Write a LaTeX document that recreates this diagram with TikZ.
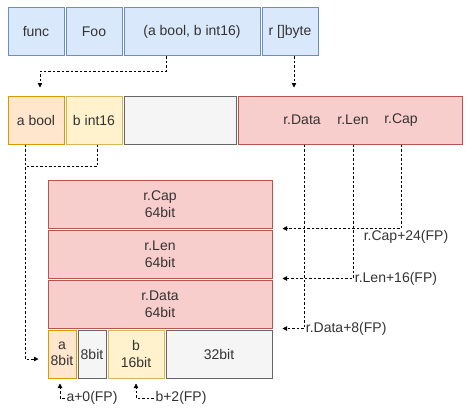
\documentclass[tikz,border=0pt]{standalone}
\usepackage{fontspec}
\setmainfont{Liberation Sans}
\usetikzlibrary{arrows.meta,positioning}
\definecolor{argfill}{HTML}{DAE8FC}
\definecolor{argline}{HTML}{6C8EBF}
\definecolor{boolfill}{HTML}{FFE6CC}
\definecolor{boolline}{HTML}{D79B00}
\definecolor{intfill}{HTML}{FFF2CC}
\definecolor{intline}{HTML}{D6B656}
\definecolor{padfill}{HTML}{F5F5F5}
\definecolor{padline}{HTML}{666666}
\definecolor{slicefill}{HTML}{F8CECC}
\definecolor{sliceline}{HTML}{B85450}
\tikzset{
	cell/.style={
		rectangle,
		line width=1pt,
		inner sep=0pt,
		minimum height=48pt,
		align=center,
		text=black!80,
		font=\fontsize{14}{16.5}\selectfont,
		node distance=1pt
	},
	argcell/.style={cell, fill=argfill, draw=argline},
	boolcell/.style={cell, fill=boolfill, draw=boolline},
	intcell/.style={cell, fill=intfill, draw=intline},
	padcell/.style={cell, fill=padfill, draw=padline},
	slicecell/.style={cell, fill=slicefill, draw=sliceline},
	lbl/.style={
		inner sep=1.5pt,
		text=black!80,
		font=\fontsize{14}{16.5}\selectfont
	},
	link/.style={
		dash pattern=on 2.5pt off 2pt,
		line width=0.8pt
	},
	ptr/.style={
		link,
		-{Triangle[length=4.5pt,width=4.5pt]}
	}
}

\begin{document}
\begin{tikzpicture}[x=1pt,y=-1pt]
\useasboundingbox (0,0) rectangle (473,416);
% signature
\node [argcell, minimum width=56pt] (func) at (36,31.5) {func};
\node [argcell, minimum width=56pt, right=of func] (foo) {Foo};
\node [argcell, minimum width=136pt, right=of foo] (args) {(a bool, b int16)};
\node [argcell, minimum width=56pt, right=of args] (rbyte) {r []byte};
% arguments
\node [boolcell, minimum width=56pt] (abool) at (36,120) {a bool};
\node [intcell, minimum width=56pt, right=of abool] (bint) {b int16};
\node [padcell, minimum width=112pt, right=of bint] (pad) {};
\node [slicecell, minimum width=224pt, right=of pad] (rslice) {};
\node [lbl] (rdatatxt) at (302,120) {r.Data};
\node [lbl] (rlentxt) at (353,120) {r.Len};
\node [lbl] (rcaptxt) at (401,120) {r.Cap};
% frame
\node [slicecell, minimum width=224pt] (cap) at (160,204) {r.Cap\\64bit};
\node [slicecell, minimum width=224pt, below=of cap] (len) {r.Len\\64bit};
\node [slicecell, minimum width=224pt, below=of len] (data) {r.Data\\64bit};
\node [boolcell, minimum width=28pt, below=of data.south west, anchor=north west] (abit) {a\\8bit};
\node [padcell, minimum width=28pt, right=of abit] (padbit) {8bit};
\node [intcell, minimum width=56pt, right=of padbit] (bbit) {b\\16bit};
\node [padcell, minimum width=106pt, right=of bbit] (restbit) {32bit};
\node [lbl] (aoff) at (92,398) {a+0(FP)};
\node [lbl] (boff) at (181,398) {b+2(FP)};
% links
\coordinate (ajoin) at ([xshift=-11pt,yshift=-22pt]abool.south);
\draw [ptr, shorten >=8pt] ([xshift=-26pt]args.south) -- ++(0,15) -| ([xshift=4pt]abool.north);
\draw [ptr, shorten >=8pt] ([xshift=4pt]rbyte.south) -- ([xshift=4pt]rbyte.south |- rslice.north);
\draw [ptr, shorten >=9pt] ([xshift=-11pt]abool.south) |- ([yshift=-5pt]abit.west);
\draw [link] ([xshift=3pt]bint.south) |- (ajoin);
\draw [ptr, shorten >=10pt] (rcaptxt.center |- rslice.south) |- node [lbl, below, xshift=5pt] {r.Cap+24(FP)} (cap.south east);
\draw [ptr, shorten >=10pt] (rlentxt.center |- rslice.south) |- node [lbl, right] {r.Len+16(FP)} (len.south east);
\draw [ptr, shorten >=10pt] ([xshift=2pt]rdatatxt.center |- rslice.south) |- node [lbl, right] {r.Data+8(FP)} (data.south east);
\draw [ptr, shorten >=5pt] (aoff.west) -| ([xshift=-2pt]abit.south);
\draw [ptr, shorten >=5pt] (boff.west) -| (bbit.south);
\end{tikzpicture}
\end{document}
